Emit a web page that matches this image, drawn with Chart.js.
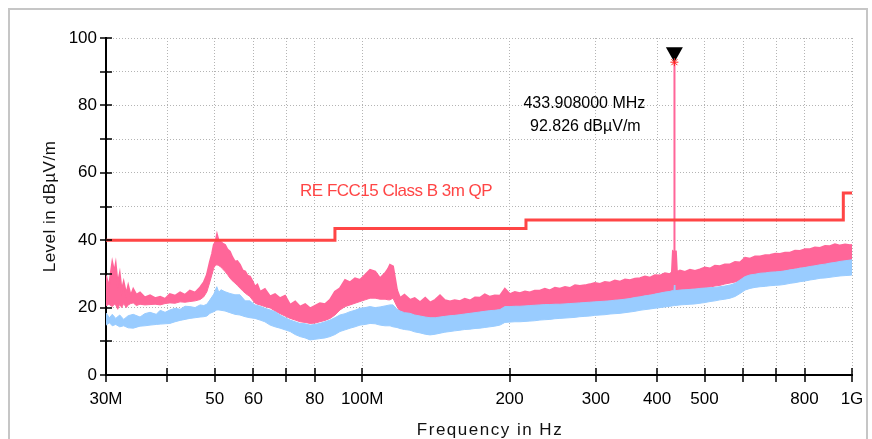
<!DOCTYPE html>
<html>
<head>
<meta charset="utf-8">
<title>Radiated emission scan</title>
<script src="https://cdn.jsdelivr.net/npm/chart.js@4/dist/chart.umd.min.js"></script>
<style>
  html, body { margin: 0; padding: 0; background: #fff; }
  canvas { display: block; }
</style>
</head>
<body>
<canvas id="scan" width="872" height="439"></canvas>
<script>
// Frequency axis ticks (MHz) and their printed labels
const xTickValues = [30, 40, 50, 60, 70, 80, 100, 200, 300, 400, 500, 600, 700, 800, 1000];
const xTickLabels = ['30M', '', '50', '60', '', '80', '100M', '200', '300', '400', '500', '', '', '800', '1G'];

// Level axis (dBµV/m)
const yMin = 0, yMax = 100, yStep = 10, yLabelEvery = 20;

// FCC Part 15 Class B, 3 m, quasi-peak limit
const limitName = 'RE FCC15 Class B 3m QP';
const limitFreq  = [30, 88, 88, 216, 216, 960, 960, 1000];
const limitLevel = [40, 40, 43.5, 43.5, 46, 46, 54, 54];

// Peak detector trace: upper / lower envelope of the sweep
const peakFreq = [30.0, 30.4, 30.9, 31.2, 31.4, 31.7, 32.0, 32.3, 32.6, 33.0, 33.3, 33.7, 34.1, 34.6, 35.2, 36.0, 36.9, 37.8, 38.7, 39.6,
  40.5, 41.5, 42.5, 43.5, 44.5, 45.6, 46.7, 47.5, 48.2, 48.9, 49.4, 49.8, 50.2, 50.55, 50.9, 51.3, 51.9, 52.5, 53.1, 53.7,
  54.3, 55.0, 55.6, 56.3, 57.0, 57.7, 58.3, 59.0, 59.7, 60.4, 61.1, 61.9, 63.3, 64.9, 66.4, 68.0, 69.6, 71.3, 73.0, 74.7,
  76.5, 78.3, 80.1, 82.0, 84.0, 86.0, 88.0, 90.1, 92.3, 94.5, 96.7, 99.0, 101.4, 103.8, 106.3, 108.8, 111.4, 113.0, 114.0, 115.6,
  117.8, 119.5, 122.0, 125.2, 128.0, 131.3, 134.5, 137.6, 141.0, 144.2, 147.5, 151.1, 154.5, 158.4, 162.0, 166.0, 170.0, 174.0, 178.0, 182.3,
  186.5, 191.1, 195.6, 200.3, 205.0, 209.9, 215.0, 220.0, 225.0, 230.6, 236.0, 241.7, 247.5, 253.3, 259.5, 265.5, 272.0, 278.2, 285.0, 291.6,
  298.5, 306.0, 313.0, 320.7, 328.0, 336.1, 344.0, 352.3, 360.5, 369.2, 378.0, 387.0, 396.0, 405.6, 415.0, 425.0, 429.0,
  431.0, 433.5, 433.908, 434.3, 437.0, 439.0,
  445.5, 456.0, 466.9, 478.0, 489.4, 501.0, 512.9, 525.0, 537.6, 550.0, 563.7, 577.1, 590.9, 604.9, 619.2, 634.0, 649.3, 665.0,
  680.5, 697.0, 713.2, 730.0, 747.5, 765.0, 783.5, 802.0, 821.1, 840.0, 860.6, 881.0, 902.0, 923.0, 945.4, 968.0, 990.9, 1000];
const peakHigh = [29.5, 26.0, 33.3, 30.5, 32.8, 27.0, 30.0, 25.0, 27.5, 24.0, 26.5, 23.5, 25.5, 23.8, 24.5, 23.0, 23.6, 22.8, 23.2, 22.6,
  24.0, 23.5, 24.5, 23.8, 25.0, 24.4, 26.0, 27.5, 29.7, 33.6, 36.0, 38.6, 39.5, 41.6, 40.0, 39.6, 39.0, 38.6, 37.2, 36.6,
  35.0, 33.6, 33.8, 32.7, 31.0, 30.7, 29.5, 29.2, 27.8, 26.2, 26.8, 24.7, 25.5, 23.3, 24.0, 22.8, 23.5, 20.8, 21.8, 20.3,
  21.0, 19.8, 20.5, 21.3, 21.0, 22.3, 24.7, 25.7, 28.2, 27.5, 28.7, 28.2, 29.7, 31.2, 30.7, 28.7, 30.2, 31.5, 32.7, 32.2,
  25.2, 22.8, 23.8, 22.3, 22.8, 21.6, 22.9, 21.5, 22.3, 23.6, 22.2, 21.8, 22.2, 21.9, 22.6, 22.1, 23.0, 22.9, 23.9, 23.2,
  23.6, 23.5, 25.6, 24.0, 24.6, 24.3, 24.8, 24.5, 25.0, 25.0, 25.6, 25.1, 25.9, 25.6, 26.1, 25.8, 26.6, 26.4, 26.6, 26.9,
  27.3, 27.0, 27.6, 27.4, 28.0, 27.7, 28.3, 28.1, 28.6, 28.7, 29.2, 28.9, 29.6, 29.5, 30.2, 29.9, 30.5,
  36.6, 36.3, 92.826, 36.5, 36.6, 30.5,
  31.0, 30.6, 31.2, 30.9, 31.3, 31.9, 31.6, 32.4, 32.3, 32.8, 32.8, 33.5, 33.4, 34.8, 34.5, 35.2, 35.2, 35.5,
  35.6, 36.0, 35.9, 36.3, 36.3, 36.9, 36.8, 37.3, 37.3, 37.8, 37.7, 38.3, 38.2, 38.8, 38.4, 38.7, 38.5, 38.6];
const peakLow = [20.5, 21.0, 20.3, 21.0, 20.8, 19.5, 21.0, 20.0, 21.2, 20.0, 20.8, 21.2, 21.4, 20.6, 21.0, 20.8, 20.9, 21.0, 20.8, 21.2,
  21.4, 21.3, 21.7, 21.6, 21.8, 22.0, 22.4, 23.2, 24.7, 27.7, 30.0, 31.8, 32.6, 32.7, 32.5, 32.2, 31.5, 30.7, 29.8, 28.8,
  28.0, 27.3, 26.6, 25.8, 25.0, 24.3, 23.8, 23.3, 22.3, 21.4, 21.0, 20.8, 20.3, 19.9, 19.0, 18.2, 17.5, 16.8, 16.3, 15.8,
  15.6, 15.3, 15.4, 15.8, 16.2, 16.8, 17.8, 19.3, 20.3, 20.8, 21.3, 21.8, 22.3, 22.8, 22.8, 22.5, 22.5, 22.3, 22.3, 22.8,
  20.3, 18.8, 18.2, 17.8, 17.2, 16.9, 16.8, 16.8, 16.9, 17.2, 17.3, 17.6, 17.7, 17.8, 18.0, 18.2, 18.4, 18.7, 18.9, 19.1,
  19.2, 19.4, 19.7, 19.8, 20.0, 20.2, 20.3, 20.5, 20.6, 20.7, 20.8, 20.8, 20.9, 20.9, 21.0, 21.1, 21.2, 21.3, 21.4, 21.5,
  21.6, 21.7, 21.9, 22.0, 22.2, 22.3, 22.5, 22.8, 23.0, 23.3, 23.5, 23.8, 24.0, 24.3, 24.5, 24.7, 24.9,
  25.0, 25.0, 25.0, 25.0, 25.0, 25.0,
  25.2, 25.3, 25.5, 25.6, 25.7, 25.9, 26.1, 26.4, 26.6, 27.0, 27.3, 27.6, 28.0, 28.6, 29.1, 29.6, 30.0, 30.3,
  30.5, 30.6, 30.7, 30.9, 31.2, 31.5, 31.8, 32.0, 32.2, 32.4, 32.6, 32.8, 33.0, 33.3, 33.6, 33.8, 34.0, 34.2];

// Average detector trace: upper / lower envelope of the sweep
const avgFreq = [30.0, 30.5, 30.9, 31.4, 32.0, 32.6, 33.3, 34.1, 35.2, 36.0, 36.9, 38.0, 38.7, 39.6, 40.5, 41.5, 42.5, 43.5, 44.5, 45.6,
  46.7, 47.5, 48.2, 48.9, 49.8, 50.5, 51.0, 51.5, 52.5, 53.7, 55.0, 56.3, 57.7, 59.0, 60.4, 61.9, 63.3, 64.9, 66.4, 68.0,
  69.6, 71.3, 73.0, 74.7, 76.5, 78.3, 80.1, 82.0, 84.0, 86.0, 88.0, 90.1, 92.3, 94.5, 96.7, 99.0, 101.4, 103.8, 106.3, 108.8,
  111.4, 114.0, 115.6,
  117.8, 119.5, 122.0, 125.2, 128.0, 131.3, 134.5, 137.6, 141.0, 144.2, 147.5, 151.1, 154.5, 158.4, 162.0, 166.0, 170.0, 174.0, 178.0, 182.3,
  186.5, 191.1, 195.6, 200.3, 205.0, 209.9, 215.0, 220.0, 225.0, 230.6, 236.0, 241.7, 247.5, 253.3, 259.5, 265.5, 272.0, 278.2, 285.0, 291.6,
  298.5, 306.0, 313.0, 320.7, 328.0, 336.1, 344.0, 352.3, 360.5, 369.2, 378.0, 387.0, 396.0, 405.6, 415.0, 425.0, 429.0,
  433.0, 433.908, 434.8,
  445.5, 456.0, 466.9, 478.0, 489.4, 501.0, 512.9, 525.0, 537.6, 550.0, 563.7, 577.1, 590.9, 604.9, 619.2, 634.0, 649.3, 665.0,
  680.5, 697.0, 713.2, 730.0, 747.5, 765.0, 783.5, 802.0, 821.1, 840.0, 860.6, 881.0, 902.0, 923.0, 945.4, 968.0, 990.9, 1000];
const avgHigh = [18.4, 17.0, 18.0, 16.8, 17.8, 16.5, 17.6, 18.0, 17.2, 18.2, 18.6, 18.0, 19.2, 18.6, 19.3, 19.8, 19.5, 20.4, 20.3, 20.0,
  20.8, 20.6, 21.0, 22.3, 24.0, 26.2, 24.5, 25.3, 24.7, 24.2, 23.8, 23.8, 22.0, 22.0, 20.8, 20.4, 19.8, 19.3, 18.8, 17.8,
  17.0, 16.3, 15.8, 15.3, 15.2, 14.8, 15.0, 15.3, 15.8, 16.3, 17.0, 17.8, 18.2, 18.8, 19.2, 19.8, 20.0, 20.3, 20.0, 20.2,
  20.5, 20.8, 20.8,
  19.5, 19.0, 18.5, 18.3, 17.8, 17.5, 17.2, 17.0, 17.0, 17.2, 17.4, 17.6, 17.7, 17.9, 18.1, 18.3, 18.5, 18.7, 18.9, 19.1,
  19.2, 19.4, 20.3, 20.3, 20.4, 20.4, 20.5, 20.6, 20.7, 20.8, 20.9, 20.9, 21.0, 21.0, 21.1, 21.2, 21.3, 21.4, 21.5, 21.6,
  21.7, 21.8, 21.9, 22.0, 22.2, 22.3, 22.5, 22.7, 23.0, 23.2, 23.5, 23.7, 24.0, 24.3, 24.6, 24.8, 25.0,
  25.0, 26.7, 25.0,
  25.2, 25.3, 25.4, 25.5, 25.7, 25.8, 25.9, 26.0, 26.2, 26.4, 26.7, 27.2, 28.2, 29.2, 29.7, 29.9, 30.2, 30.3,
  30.5, 30.6, 30.7, 30.9, 31.2, 31.4, 31.7, 31.9, 32.2, 32.4, 32.7, 32.9, 33.2, 33.4, 33.7, 33.9, 34.1, 34.2];
const avgLow = [14.8, 15.5, 14.6, 15.0, 14.3, 14.6, 14.0, 13.9, 14.5, 14.6, 14.8, 15.0, 15.1, 15.2, 15.3, 15.8, 16.2, 16.5, 16.8, 17.0,
  17.2, 17.3, 17.5, 18.3, 18.8, 19.3, 19.3, 19.2, 19.0, 18.5, 18.0, 17.8, 17.3, 17.0, 16.8, 16.3, 15.8, 14.8, 14.3, 13.9,
  13.4, 12.9, 12.0, 11.4, 11.0, 10.4, 10.6, 10.8, 11.0, 11.4, 12.0, 12.9, 13.4, 13.9, 14.3, 14.8, 15.0, 15.3, 15.2, 14.8,
  14.6, 14.6, 14.3,
  14.1, 13.8, 13.5, 13.3, 12.8, 12.5, 12.1, 11.9, 12.1, 12.4, 12.7, 12.9, 13.1, 13.3, 13.5, 13.6, 13.8, 13.9, 14.1, 14.3,
  14.5, 14.8, 15.6, 15.7, 15.8, 15.8, 15.9, 16.0, 16.1, 16.3, 16.4, 16.5, 16.7, 16.8, 16.9, 17.0, 17.1, 17.3, 17.4, 17.5,
  17.7, 17.8, 17.9, 18.1, 18.2, 18.3, 18.5, 18.7, 18.9, 19.2, 19.4, 19.6, 19.8, 20.0, 20.2, 20.4, 20.5,
  20.6, 20.6, 20.6,
  20.8, 20.9, 21.0, 21.1, 21.3, 21.5, 21.8, 22.0, 22.3, 22.5, 22.8, 23.3, 24.2, 25.2, 25.7, 26.0, 26.2, 26.3,
  26.5, 26.6, 26.7, 26.9, 27.2, 27.4, 27.7, 27.9, 28.2, 28.4, 28.7, 28.8, 29.0, 29.2, 29.4, 29.5, 29.6, 29.7];

// Marker on the strongest emission
const markerFreq = 433.908;   // MHz
const markerLevel = 92.826;   // dBµV/m

const FONT = "'Liberation Sans', Arial, Helvetica, sans-serif";
const PEAK_COLOR = '#ff6699';
const AVG_COLOR = '#99ccff';
const LIMIT_COLOR = '#ff4545';

const pts = (xs, ys) => xs.map((v, i) => ({ x: v, y: ys[i] }));

// Frame, crossing tick marks, marker and text annotations
const decorations = {
  id: 'decorations',
  beforeDraw(chart) {
    const ctx = chart.ctx;
    ctx.save();
    ctx.fillStyle = '#fff';
    ctx.fillRect(0, 0, chart.width, chart.height);
    ctx.strokeStyle = '#c6c6c6';
    ctx.lineWidth = 2;
    ctx.strokeRect(9, 9, 858, 460);
    ctx.restore();
  },
  afterDraw(chart) {
    const { ctx, chartArea: a } = chart;
    const xs = chart.scales.x, ys = chart.scales.y;
    ctx.save();

    // tick marks straddling both axes
    ctx.strokeStyle = '#000';
    ctx.lineWidth = 1.5;
    ctx.beginPath();
    xs.ticks.forEach(t => {
      const px = Math.round(xs.getPixelForValue(t.value));
      ctx.moveTo(px, a.bottom - 7);
      ctx.lineTo(px, a.bottom + 7);
    });
    ys.ticks.forEach(t => {
      const py = Math.round(ys.getPixelForValue(t.value));
      ctx.moveTo(a.left - 6, py);
      ctx.lineTo(a.left + 6, py);
    });
    ctx.stroke();

    // limit line caption
    ctx.fillStyle = LIMIT_COLOR;
    ctx.font = '17px ' + FONT;
    ctx.letterSpacing = '-0.5px';
    ctx.textAlign = 'left';
    ctx.textBaseline = 'middle';
    ctx.fillText(limitName, xs.getPixelForValue(74.7), ys.getPixelForValue(54.4));

    // marker: triangle pointing at the peak, red star on the point
    const mx = xs.getPixelForValue(markerFreq);
    const my = ys.getPixelForValue(markerLevel);
    ctx.fillStyle = '#000';
    ctx.beginPath();
    ctx.moveTo(mx - 8.5, my - 15);
    ctx.lineTo(mx + 8.5, my - 15);
    ctx.lineTo(mx, my);
    ctx.closePath();
    ctx.fill();
    ctx.strokeStyle = '#ff2020';
    ctx.lineWidth = 1;
    ctx.beginPath();
    ctx.moveTo(mx - 4, my); ctx.lineTo(mx + 4, my);
    ctx.moveTo(mx, my - 4); ctx.lineTo(mx, my + 4);
    ctx.moveTo(mx - 3, my - 3); ctx.lineTo(mx + 3, my + 3);
    ctx.moveTo(mx - 3, my + 3); ctx.lineTo(mx + 3, my - 3);
    ctx.stroke();

    // marker readout
    ctx.fillStyle = '#000';
    ctx.font = '16px ' + FONT;
    ctx.letterSpacing = '0px';
    ctx.textAlign = 'center';
    ctx.fillText(markerFreq.toFixed(6) + ' MHz', mx - 90, my + 41);
    ctx.fillText(markerLevel.toFixed(3) + ' dB\u00b5V/m', mx - 89, my + 64);

    // axis titles
    ctx.font = '17px ' + FONT;
    ctx.fillStyle = '#111';
    ctx.letterSpacing = '1.5px';
    ctx.fillText('Frequency in Hz', 490, 430);
    ctx.save();
    ctx.translate(50, (a.top + a.bottom) / 2);
    ctx.rotate(-Math.PI / 2);
    ctx.letterSpacing = '0.5px';
    ctx.fillText('Level in dB\u00b5V/m', 0, 0);
    ctx.restore();

    ctx.restore();
  }
};

const gridOpts = { color: '#b4b4b4', lineWidth: 1, drawTicks: false };
const borderOpts = { display: true, color: '#000', width: 2, dash: [1, 2] };
const tickFont = { family: FONT, size: 17 };

new Chart(document.getElementById('scan'), {
  type: 'line',
  data: {
    datasets: [
      { label: limitName, data: pts(limitFreq, limitLevel), borderColor: LIMIT_COLOR, borderWidth: 3,
        pointRadius: 0, fill: false },
      { label: 'AV max', data: pts(avgFreq, avgHigh), borderColor: AVG_COLOR, backgroundColor: AVG_COLOR,
        borderWidth: 1, pointRadius: 0, fill: '+1' },
      { label: 'AV min', data: pts(avgFreq, avgLow), borderColor: AVG_COLOR, borderWidth: 1,
        pointRadius: 0, fill: false },
      { label: 'PK max', data: pts(peakFreq, peakHigh), borderColor: PEAK_COLOR, backgroundColor: PEAK_COLOR,
        borderWidth: 2, pointRadius: 0, fill: '+1' },
      { label: 'PK min', data: pts(peakFreq, peakLow), borderColor: PEAK_COLOR, borderWidth: 1,
        pointRadius: 0, fill: false }
    ]
  },
  options: {
    responsive: false,
    animation: false,
    layout: { padding: { left: 0, top: 38, right: 20, bottom: 0 } },
    elements: { line: { tension: 0 } },
    plugins: { legend: { display: false }, tooltip: { enabled: false } },
    scales: {
      x: {
        type: 'logarithmic',
        min: 30,
        max: 1000,
        afterBuildTicks(scale) { scale.ticks = xTickValues.map(v => ({ value: v })); },
        afterFit(scale) { scale.height = 64; scale.paddingLeft = 0; scale.paddingRight = 0; },
        ticks: {
          autoSkip: false, maxRotation: 0, minRotation: 0, padding: 14,
          color: '#000', font: tickFont,
          callback: (v, i) => xTickLabels[i]
        },
        grid: gridOpts,
        border: borderOpts
      },
      y: {
        min: yMin,
        max: yMax,
        afterFit(scale) { scale.width = 106; scale.paddingTop = 0; scale.paddingBottom = 0; },
        ticks: {
          stepSize: yStep, padding: 9, color: '#000', font: tickFont,
          callback: v => (v % yLabelEvery === 0 ? String(v) : '')
        },
        grid: gridOpts,
        border: borderOpts
      }
    }
  },
  plugins: [decorations]
});
</script>
</body>
</html>
